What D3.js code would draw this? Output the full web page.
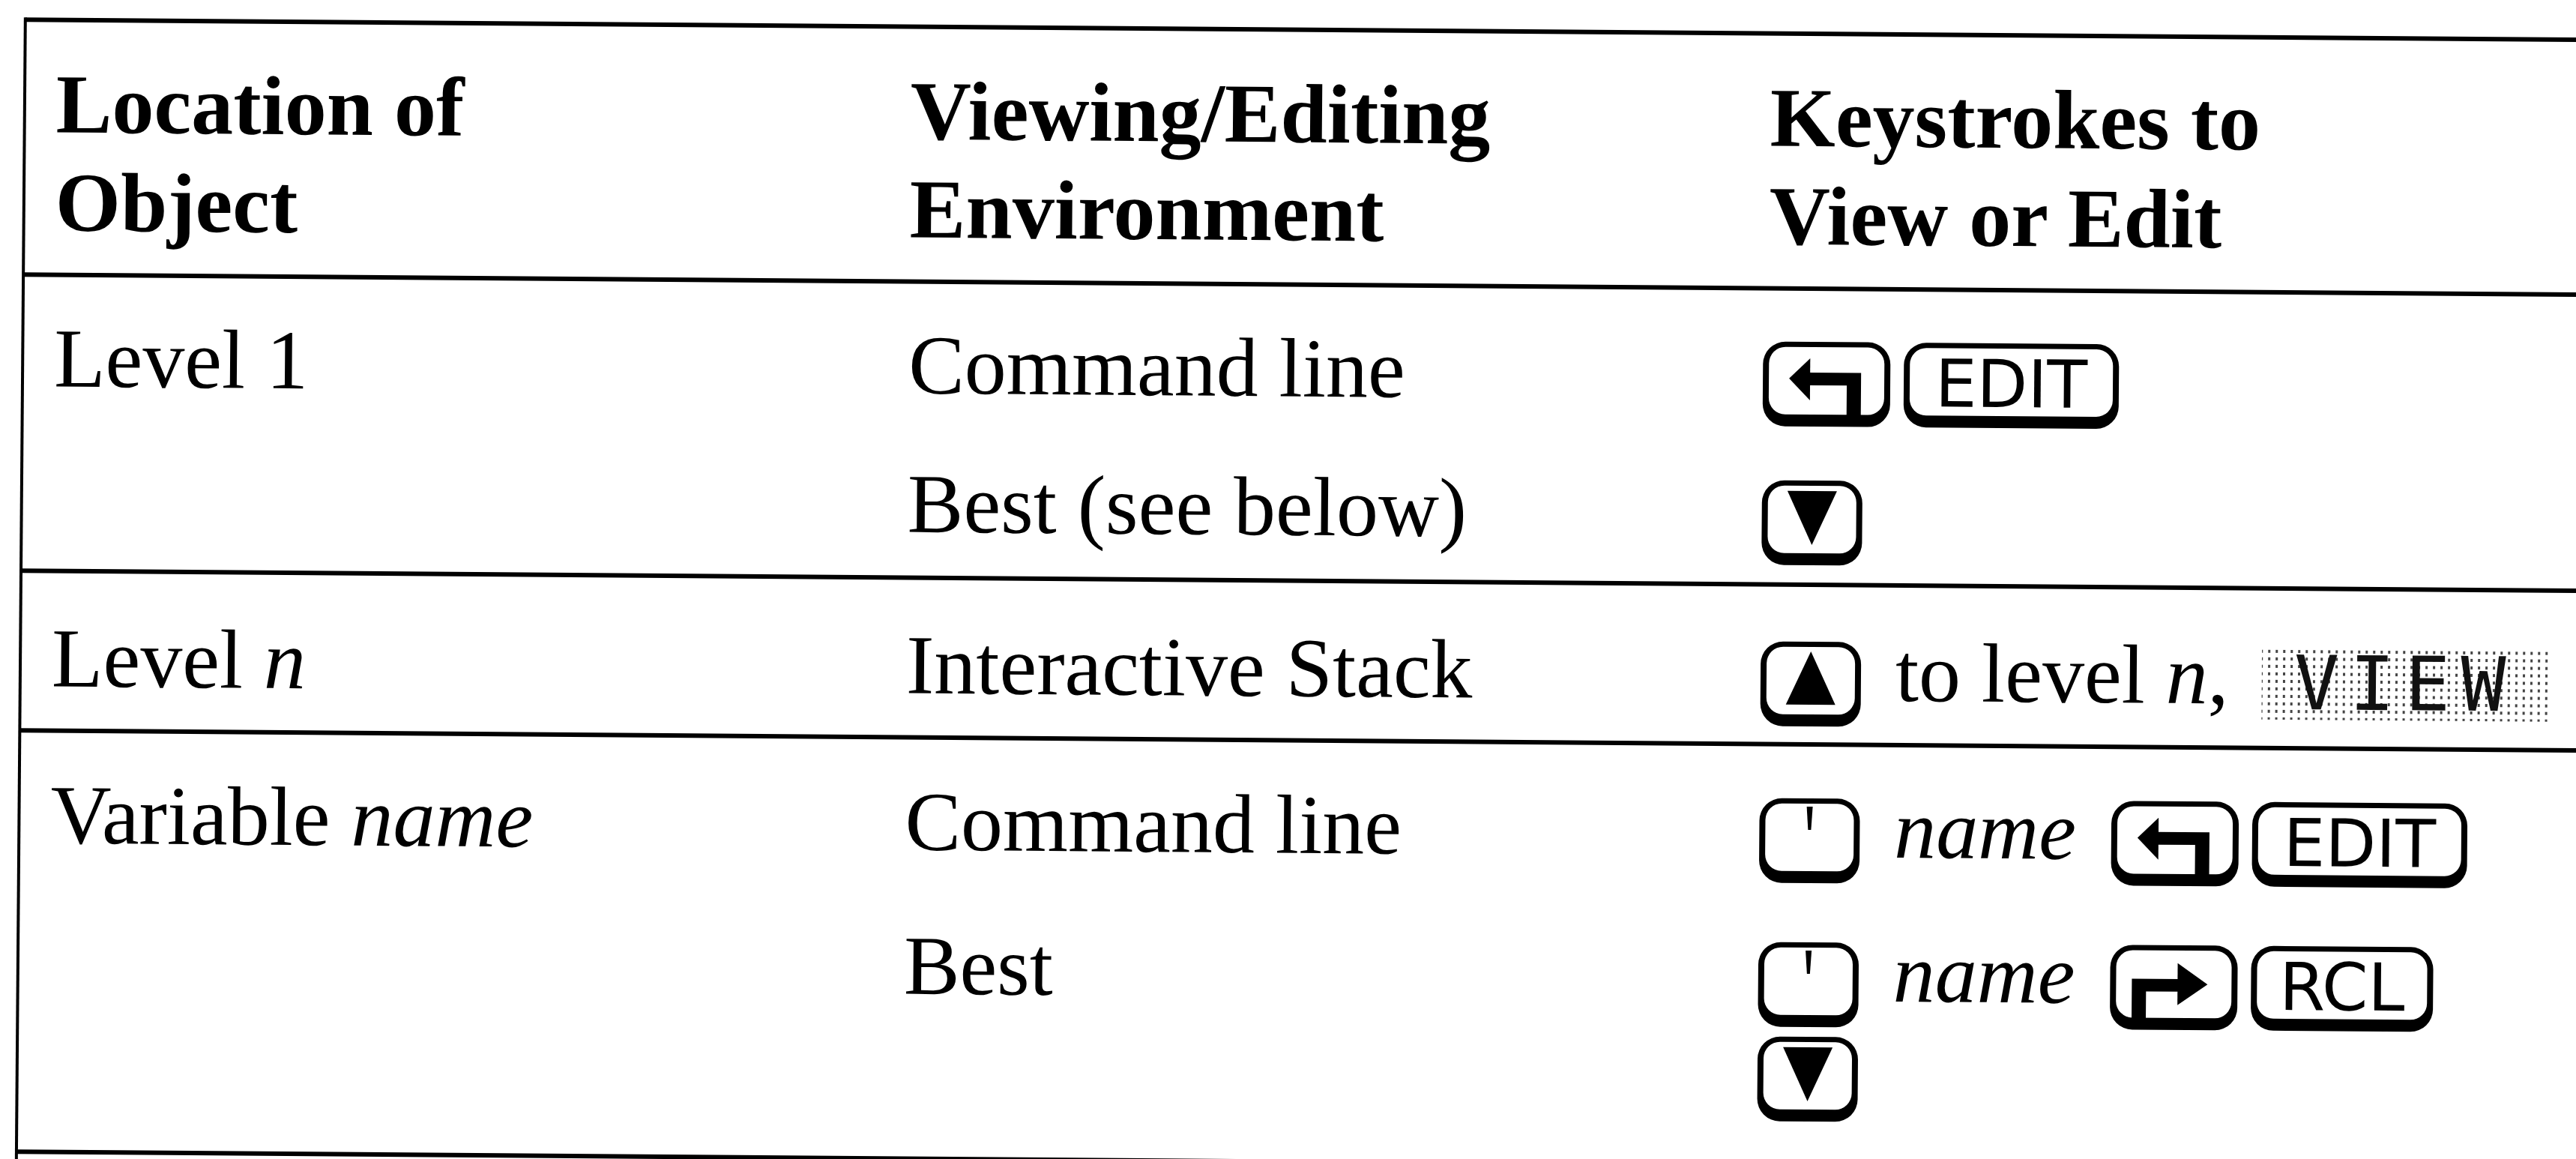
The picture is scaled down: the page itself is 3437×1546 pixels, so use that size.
<!DOCTYPE html>
<html><head><meta charset="utf-8">
<script src="https://cdn.jsdelivr.net/npm/d3@7"></script>
<style>
html,body{margin:0;padding:0;background:#fff;overflow:hidden}
text{white-space:pre}
</style></head><body>
<svg id="chart" width="3437" height="1546" xmlns="http://www.w3.org/2000/svg"></svg>
<script>
// ---- table content ----
const columns = ["location", "environment", "keystrokes"];
const headerLines = [
  ["Location of", "Object"],
  ["Viewing/Editing", "Environment"],
  ["Keystrokes to", "View or Edit"]
];
// [text, italic?]
const locationCells = [
  [["Level 1", 0]],
  [["Level ", 0], ["n", 1]],
  [["Variable ", 0], ["name", 1]]
];
const environmentCells = [
  ["Command line", "Best (see below)"],
  ["Interactive Stack"],
  ["Command line", "Best"]
];
// tokens: key symbols, labelled keys, "*x" italic text, "[X]" menu label, others roman text
const keystrokeCells = [
  [["shiftL", "EDIT"], ["down"]],
  [["up", "to level ", "*n", ",", "[VIEW]"]],
  [["tick", "*name", "shiftL", "EDIT"], ["tick", "*name", "shiftR", "RCL"], ["down"]]
];
const rules = ["top", "header", "row1", "row2", "bottom"];

// ---- layout ----
const W = 3437, H = 1546;
const svg = d3.select("#chart");
svg.append("rect").attr("width", W).attr("height", H).attr("fill", "#fff");
const defs = svg.append("defs");
const pat = defs.append("pattern").attr("id", "dots").attr("width", 10).attr("height", 10)
  .attr("patternUnits", "userSpaceOnUse");
pat.append("rect").attr("width", 10).attr("height", 10).attr("fill", "#fff");
pat.append("rect").attr("x", 3).attr("y", 3).attr("width", 3).attr("height", 4).attr("fill", "#444");

const g = svg.append("g").attr("transform", "rotate(0.45)");

const colX = d3.scaleOrdinal().domain(columns).range([76, 1216, 2356]);
const ruleY = d3.scaleOrdinal().domain(rules).range([26, 366, 761, 974, 1536]);
const headY = d3.scaleOrdinal().domain([0, 1]).range([176, 307]);
const rowBase = [[515, 700], [915], [1124, 1316, 1442]];
const baseY = d3.scaleOrdinal()
  .domain(rowBase.flatMap((r, i) => r.map((_, j) => i + "-" + j)))
  .range(rowBase.flat());

const SERIF = "'Liberation Serif', 'Times New Roman', serif";
const FS = 112;

// rules
g.selectAll("line.rule").data(rules).join("line").attr("class", "rule")
  .attr("x1", 34).attr("x2", W + 80)
  .attr("y1", d => ruleY(d)).attr("y2", d => ruleY(d))
  .attr("stroke", "#000").attr("stroke-width", 6);
g.append("line").attr("x1", 34).attr("x2", 34)
  .attr("y1", ruleY("top") - 3).attr("y2", H + 40)
  .attr("stroke", "#000").attr("stroke-width", 4);

// header
headerLines.forEach((lines, ci) => {
  g.selectAll(null).data(lines).join("text")
    .attr("x", colX(columns[ci]) + (ci === 2 ? 7 : 0))
    .attr("y", (d, li) => headY(li))
    .attr("font-family", SERIF).attr("font-weight", "bold").attr("font-size", FS)
    .attr("fill", "#000").text(d => d);
});

// location column
locationCells.forEach((segs, ri) => {
  const t = g.append("text").attr("x", colX("location")).attr("y", baseY(ri + "-0"))
    .attr("font-family", SERIF).attr("font-size", FS).attr("fill", "#000");
  t.selectAll("tspan").data(segs).join("tspan")
    .attr("font-style", d => d[1] ? "italic" : "normal").text(d => d[0]);
});

// environment column
environmentCells.forEach((lines, ri) => {
  g.selectAll(null).data(lines).join("text")
    .attr("x", colX("environment"))
    .attr("y", (d, li) => baseY(ri + "-" + li))
    .attr("font-family", SERIF).attr("font-size", FS).attr("fill", "#000").text(d => d);
});

// keys
const KEY_H = 113, KEY_UP = 78;
const keyW = { shiftL: 170, shiftR: 170, up: 134, down: 134, tick: 134, EDIT: 287, RCL: 243 };
function keyBody(sel, x, top, w) {
  sel.append("rect").attr("x", x).attr("y", top).attr("width", w).attr("height", KEY_H)
    .attr("rx", 30).attr("fill", "#000");
  sel.append("rect").attr("x", x + 8).attr("y", top + 7).attr("width", w - 16)
    .attr("height", KEY_H - 7 - 16).attr("rx", 22).attr("fill", "#fff");
}
function drawKey(sel, type, x, base) {
  const top = base - KEY_UP, w = keyW[type];
  const k = sel.append("g");
  keyBody(k, x, top, w);
  const P = (pts) => "M" + pts.map(p => (x + p[0]) + "," + (top + p[1])).join("L") + "Z";
  if (type === "down") k.append("path").attr("d", P([[34, 14], [100, 14], [67, 86]])).attr("fill", "#000");
  else if (type === "up") k.append("path").attr("d", P([[34, 84], [100, 84], [67, 13]])).attr("fill", "#000");
  else if (type === "tick") k.append("path").attr("d", P([[63, 11], [71, 11], [69, 42], [65, 42]])).attr("fill", "#000");
  else if (type === "shiftL") {
    k.append("path").attr("d", P([[35, 49], [63, 22], [63, 78]])).attr("fill", "#000");
    k.append("path").attr("d", P([[60, 41], [131, 41], [131, 100], [112, 100], [112, 58], [60, 58]])).attr("fill", "#000");
  } else if (type === "shiftR") {
    k.append("path").attr("d", P([[130, 52], [90, 24], [90, 80]])).attr("fill", "#000");
    k.append("path").attr("d", P([[29, 100], [29, 45], [92, 45], [92, 62], [48, 62], [48, 100]])).attr("fill", "#000");
  } else {
    k.append("text").attr("x", x + w / 2).attr("y", top + 85).attr("text-anchor", "middle")
      .attr("font-family", "'DejaVu Sans', sans-serif").attr("font-size", 88).attr("fill", "#000")
      .text(type);
  }
  return w;
}
function drawMenu(sel, label, x, base) {
  const top = base - 77, w = 384, h = 98;
  sel.append("rect").attr("x", x).attr("y", top).attr("width", w).attr("height", h).attr("fill", "url(#dots)");
  sel.append("text").attr("x", x + 43).attr("y", top + 84)
    .attr("font-family", "'DejaVu Sans Mono', monospace")
    .attr("font-size", 100).attr("letter-spacing", 14).attr("fill", "#111").text(label);
  return w;
}

const kindOf = tok => keyW[tok] ? "key" : (tok[0] === "[" ? "menu" : "text");
keystrokeCells.forEach((lines, ri) => {
  lines.forEach((tokens, li) => {
    const base = baseY(ri + "-" + li);
    let x = colX("keystrokes");
    let prev = null;
    let i = 0;
    while (i < tokens.length) {
      const kind = kindOf(tokens[i]);
      if (prev) {
        if (prev === "key" && kind === "key") x += 18;
        else if (prev === "key" && kind === "text") x += 46;
        else if (prev === "text" && kind === "key") x += 47;
        else if (prev === "text" && kind === "menu") x += 44;
      }
      if (kind === "key") { x += drawKey(g, tokens[i], x, base); i++; }
      else if (kind === "menu") { x += drawMenu(g, tokens[i].slice(1, -1), x, base); i++; }
      else {
        const segs = [];
        while (i < tokens.length && kindOf(tokens[i]) === "text") { segs.push(tokens[i]); i++; }
        const t = g.append("text").attr("x", x).attr("y", base)
          .attr("font-family", SERIF).attr("font-size", FS).attr("fill", "#000");
        t.selectAll("tspan").data(segs).join("tspan")
          .attr("font-style", d => d[0] === "*" ? "italic" : "normal")
          .text(d => d[0] === "*" ? d.slice(1) : d);
        x += t.node().getComputedTextLength();
      }
      prev = kind;
    }
  });
});
</script>
</body></html>
